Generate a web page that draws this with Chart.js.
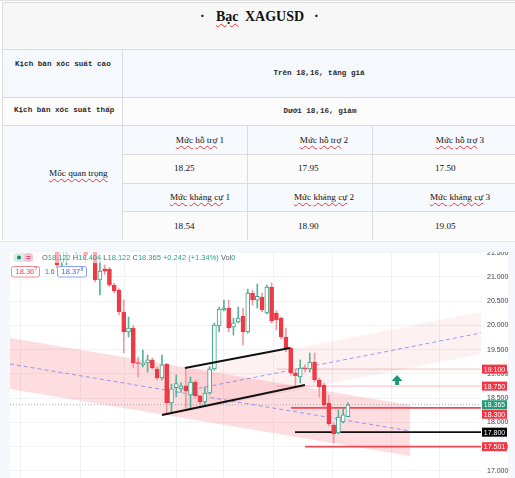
<!DOCTYPE html>
<html lang="vi"><head><meta charset="utf-8">
<script src="https://cdn.jsdelivr.net/npm/chart.js@4.4.1/dist/chart.umd.min.js"></script>
<style>
*{box-sizing:border-box}
html,body{margin:0;padding:0;background:#fff;width:515px;height:478px;overflow:hidden;position:relative}
.bg,.ln,.tx{position:absolute}
.ln{background:#dcdcdc}
.tx{white-space:nowrap;color:#111}
.mono{font-family:"Liberation Mono",monospace;font-size:7.6px;font-weight:bold;line-height:10px;height:10px;color:#2a2a2a}
.serif{font-family:"Liberation Serif",serif;font-size:9.2px;line-height:12px;height:12px;color:#111}
.ctr{width:200px;text-align:center}
.wv{text-decoration:underline wavy #e53935;text-decoration-thickness:1px;text-underline-offset:1.5px}
#frame{position:absolute;left:0;top:241px;width:515px;height:237px;background:#f4f7fc;border-top:1px solid #e3e6ee}
#panel{position:absolute;left:10px;top:252px;width:498px;height:226px;background:#fff}
#cv{position:absolute;left:0;top:252px}
</style></head>
<body>
<!-- table backgrounds -->
<div class="bg" style="left:2px;top:2px;width:513px;height:47px;background:#f7f7f7"></div>
<div class="bg" style="left:2px;top:49px;width:513px;height:48px;background:#f5f9fd"></div>
<div class="bg" style="left:2px;top:97px;width:513px;height:28px;background:#fcfcfc"></div>
<div class="bg" style="left:2px;top:125px;width:120px;height:115px;background:#f6f9fd"></div>
<div class="bg" style="left:122px;top:125px;width:393px;height:29px;background:#f6f9fd"></div>
<div class="bg" style="left:122px;top:154px;width:393px;height:29px;background:#fbfbfb"></div>
<div class="bg" style="left:122px;top:183px;width:393px;height:28px;background:#f6f9fd"></div>
<div class="bg" style="left:122px;top:211px;width:393px;height:29px;background:#fbfbfb"></div>
<!-- table lines -->
<div class="ln" style="left:0;top:0;width:515px;height:1px;background:#e2e2e2"></div>
<div class="ln" style="left:2px;top:2px;width:513px;height:1px"></div>
<div class="ln" style="left:2px;top:49px;width:513px;height:1px"></div>
<div class="ln" style="left:2px;top:97px;width:513px;height:1px"></div>
<div class="ln" style="left:2px;top:125px;width:513px;height:1px"></div>
<div class="ln" style="left:122px;top:154px;width:393px;height:1px"></div>
<div class="ln" style="left:122px;top:183px;width:393px;height:1px"></div>
<div class="ln" style="left:122px;top:211px;width:393px;height:1px"></div>
<div class="ln" style="left:2px;top:2px;width:1px;height:238px"></div>
<div class="ln" style="left:122px;top:49px;width:1px;height:191px"></div>
<div class="ln" style="left:247px;top:125px;width:1px;height:115px"></div>
<div class="ln" style="left:372px;top:125px;width:1px;height:115px"></div>
<!-- title -->
<div class="tx" style="left:200px;top:8px;font:bold 14px 'Liberation Serif',serif;line-height:18px">·</div>
<div class="tx" style="left:216px;top:8px;font:bold 14px 'Liberation Serif',serif;line-height:18px"><span class="wv">Bạc</span></div>
<div class="tx" style="left:245px;top:8px;font:bold 14px 'Liberation Serif',serif;line-height:18px">XAGUSD</div>
<div class="tx" style="left:314px;top:8px;font:bold 14px 'Liberation Serif',serif;line-height:18px">·</div>
<!-- scenario rows -->
<div class="tx mono" style="left:15px;top:59px">Kịch bản xóc suất cao</div>
<div class="tx mono ctr" style="left:219px;top:68px">Trên 18,16, tăng giá</div>
<div class="tx mono" style="left:14px;top:105px">Kịch bản xóc suất thấp</div>
<div class="tx mono ctr" style="left:220px;top:106px">Dưới 18,16, giảm</div>
<!-- key levels -->
<div class="tx serif" style="left:49px;top:167px"><span class="wv">Mốc quan trọng</span></div>
<div class="tx serif ctr" style="left:100px;top:134px"><span class="wv">Mức</span> <span class="wv">hỗ trợ</span> 1</div>
<div class="tx serif ctr" style="left:224px;top:134px"><span class="wv">Mức</span> <span class="wv">hỗ trợ</span> 2</div>
<div class="tx serif ctr" style="left:360px;top:134px"><span class="wv">Mức</span> <span class="wv">hỗ trợ</span> 3</div>
<div class="tx serif" style="left:174px;top:162px">18.25</div>
<div class="tx serif" style="left:298px;top:162px">17.95</div>
<div class="tx serif" style="left:435px;top:162px">17.50</div>
<div class="tx serif ctr" style="left:100px;top:191px"><span class="wv">Mức</span> <span class="wv">kháng cự</span> 1</div>
<div class="tx serif ctr" style="left:224px;top:191px"><span class="wv">Mức</span> <span class="wv">kháng cự</span> 2</div>
<div class="tx serif ctr" style="left:360px;top:191px"><span class="wv">Mức</span> <span class="wv">kháng cự</span> 3</div>
<div class="tx serif" style="left:174px;top:220px">18.54</div>
<div class="tx serif" style="left:298px;top:220px">18.90</div>
<div class="tx serif" style="left:435px;top:220px">19.05</div>

<div id="frame"></div>
<div id="panel"></div>
<canvas id="cv" width="510" height="250"></canvas>

<script>
// ---------- data ----------
const opens  = [21.85,21.30,21.60,22.00,21.60,21.90,21.95,21.60,21.55,20.94,21.17,21.165,20.835,20.73,20.278,19.866,19.948,19.227,19.186,19.227,19.289,19.103,18.918,19.206,18.402,18.72,18.69,18.753,18.567,18.835,18.546,18.423,18.608,19.103,19.99,20.32,20.361,19.969,20.072,20.196,19.866,20.670,20.52,20.588,20.258,20.794,20.258,20.155,19.763,19.536,19.021,18.938,19.124,19.103,19.247,18.876,18.773,18.402,17.948,17.784,18.01,18.122];
const highs  = [22.00,21.90,21.95,22.10,21.90,22.00,22.05,21.80,21.60,21.35,21.25,21.20,20.87,20.76,20.526,20.175,20.00,19.35,19.495,19.39,19.33,19.14,19.39,19.22,18.79,18.98,18.82,19.124,18.938,18.87,18.56,18.732,19.15,20.05,20.38,20.526,20.526,20.155,20.38,20.361,20.75,20.73,20.855,20.67,20.835,20.876,20.30,20.18,19.948,19.56,19.082,19.289,19.186,19.433,19.433,18.918,18.814,18.567,17.99,18.258,18.299,18.404];
const lows   = [21.19,21.20,21.25,21.55,21.45,21.50,21.30,21.52,20.90,20.63,21.05,20.80,20.68,20.216,19.433,19.763,19.124,18.94,19.144,19.04,19.10,18.876,18.876,18.196,18.196,18.53,18.62,18.299,18.299,18.50,18.32,18.361,18.58,19.08,19.866,20.30,19.866,19.80,20.05,19.598,19.845,20.42,20.36,20.28,20.237,20.052,19.907,19.72,19.454,18.979,18.732,18.814,19.041,19.041,18.835,18.526,18.32,17.928,17.577,17.763,17.99,18.122];
const closes = [21.25,21.70,21.80,21.65,21.80,21.60,21.45,21.70,20.94,21.124,21.12,20.835,20.711,20.278,19.866,19.948,19.227,19.215,19.227,19.289,19.124,18.918,19.186,18.402,18.691,18.80,18.753,18.649,18.835,18.546,18.423,18.608,19.103,20.010,20.34,20.36,19.948,20.052,20.155,19.866,20.670,20.526,20.60,20.32,20.794,20.093,20.113,19.763,19.536,19.021,18.959,19.124,19.103,19.247,18.876,18.732,18.361,17.969,17.763,18.113,18.155,18.365];

const yTicks   = [17, 17.5, 18, 18.5, 19, 19.5, 20, 20.5, 21, 21.5];
const vGridIdx = [-7.75, 5, 14.25, 25.15, 35, 45.3, 57.85, 70.2, 80.3];

const lastPrice = 18.365;
const levelPrices   = [19.100, 18.750, 18.300, 17.800, 17.501];
const levelStartIdx = [46, 46, 49.05, 49.9, 52];

// regression channels (bar index, price)
const descX = [-9.85, 74];
const descUpper = [19.742, 18.361];
const descMid   = [19.206, 17.825];
const descLower = [18.691, 17.309];
const ascX = [26.83, 88.9];
const ascUpper = [19.082, 20.278];
const ascMid   = [18.649, 19.845];
const ascLower = [18.216, 19.412];
// drawn trend lines
const trendHiX = [26.83, 48.85], trendHiY = [19.124, 19.536];
const trendLoX = [22.01, 51.99], trendLoY = [18.155, 18.773];
// arrow marker
const arrowIdx = 71.3, arrowPrice = 18.98;
// price tags on the axis
const tagPrices = [19.100, 18.750, 18.365, 18.300, 17.800, 17.501];
// header values
const hdrO = '18.122', hdrH = '18.404', hdrL = '18.122', hdrC = '18.365', hdrChg = '+0.242 (+1.34%)', hdrVol = '0';
const bidTxt = '18.36', bidLast = '7', spreadTxt = '1.6', askTxt = '18.37', askLast = '8';

// ---------- styles ----------
const UP = '#3ba287', DOWN = '#ee3a46', UPW = '#54b597', DOWNW = '#f39aa0';
const tagColors = ['#f23645', '#f23645', '#1e9a78', '#f23645', '#000000', '#f23645'];
const levelColors = ['rgba(242,54,69,0.32)', 'rgba(242,54,69,0.32)', '#f04a55', '#111111', '#f04a55'];
const levelWidths = [1, 1, 1.6, 1.6, 1.6];

const idx = opens.map((_, i) => i);
const up = idx.map(i => closes[i] >= opens[i]);
const seg = (xs, ys) => xs.map((x, k) => ({x, y: ys[k]}));
const XMIN = -9.85, XMAX = 88.9;

const ds = [];
ds.push({type:'line', data: seg(descX, descUpper), borderWidth:0, borderColor:'rgba(0,0,0,0)', pointRadius:0, fill:1, backgroundColor:'rgba(242,54,69,0.17)', order:30});
ds.push({type:'line', data: seg(descX, descLower), borderWidth:0, borderColor:'rgba(0,0,0,0)', pointRadius:0, fill:false, order:30});
ds.push({type:'line', data: seg(ascX, ascUpper), borderWidth:0, borderColor:'rgba(0,0,0,0)', pointRadius:0, fill:3, backgroundColor:'rgba(242,54,69,0.07)', order:29});
ds.push({type:'line', data: seg(ascX, ascLower), borderWidth:0, borderColor:'rgba(0,0,0,0)', pointRadius:0, fill:false, order:29});
ds.push({type:'line', data: seg(descX, descMid), borderWidth:1, borderColor:'rgba(90,110,240,0.65)', borderDash:[4,3], pointRadius:0, fill:false, order:25});
ds.push({type:'line', data: seg(ascX, ascMid), borderWidth:1, borderColor:'rgba(90,110,240,0.65)', borderDash:[4,3], pointRadius:0, fill:false, order:25});
levelPrices.forEach((p, k) => {
  ds.push({type:'line', data: seg([levelStartIdx[k], XMAX], [p, p]), borderWidth: levelWidths[k], borderColor: levelColors[k], pointRadius:0, fill:false, order:20});
});
ds.push({type:'line', data: seg([XMIN, XMAX], [lastPrice, lastPrice]), borderWidth:1, borderColor:'#a3a7b0', borderDash:[1,2], pointRadius:0, fill:false, order:21});
ds.push({type:'bar', data: idx.map(i => ({x:i, y:[lows[i], highs[i]]})), barThickness:1, grouped:false,
  backgroundColor: idx.map(i => up[i] ? UPW : DOWNW), borderWidth:0, order:10});
ds.push({type:'bar', data: idx.map(i => ({x:i, y:[opens[i], closes[i]]})), barThickness:4, grouped:false, minBarLength:1,
  backgroundColor: idx.map(i => up[i] ? '#ffffff' : DOWN), borderColor: idx.map(i => up[i] ? UP : DOWN),
  borderWidth:1, borderSkipped:false, order:9});
ds.push({type:'line', data: seg(trendHiX, trendHiY), borderWidth:2, borderColor:'#111', pointRadius:0, fill:false, order:5});
ds.push({type:'line', data: seg(trendLoX, trendLoY), borderWidth:2, borderColor:'#111', pointRadius:0, fill:false, order:5});

const overlay = {
  id:'overlay',
  afterDraw(chart){
    const ctx = chart.ctx, xs = chart.scales.x, ys = chart.scales.y, ca = chart.chartArea;
    ctx.save();
    // arrow
    const ax = xs.getPixelForValue(arrowIdx), ay = ys.getPixelForValue(arrowPrice);
    ctx.fillStyle = '#1e9a78';
    ctx.beginPath();
    ctx.moveTo(ax, ay); ctx.lineTo(ax + 5.5, ay + 6); ctx.lineTo(ax + 2, ay + 6); ctx.lineTo(ax + 2, ay + 10);
    ctx.lineTo(ax - 2, ay + 10); ctx.lineTo(ax - 2, ay + 6); ctx.lineTo(ax - 5.5, ay + 6); ctx.closePath(); ctx.fill();

    // price tags
    const H = 9;
    const tags = tagPrices.map((p, k) => ({p, c: tagColors[k], y: ys.getPixelForValue(p)})).sort((a, b) => a.y - b.y);
    let prevBottom = -1e9;
    tags.forEach(t => {
      let top = t.y - H / 2;
      if (top < prevBottom + 0.5) top = prevBottom + 0.5;
      prevBottom = top + H;
      ctx.fillStyle = t.c;
      ctx.fillRect(ca.right + 1, top, 25, H);
      ctx.fillStyle = '#fff';
      ctx.font = '7px "Liberation Sans", sans-serif';
      ctx.textAlign = 'center'; ctx.textBaseline = 'middle';
      ctx.fillText(t.p.toFixed(3), ca.right + 13.5, top + H / 2 + 0.5);
    });

    // header legend
    ctx.fillStyle = 'rgba(255,255,255,0.6)';
    ctx.fillRect(ca.left, 0, 230, 11);
    // toggle pill
    ctx.fillStyle = '#d7eee7';
    ctx.beginPath(); ctx.roundRect(13, 1, 14, 9, 4.5); ctx.fill();
    ctx.fillStyle = '#f7c6d4';
    ctx.beginPath(); ctx.roundRect(24, 1, 9, 9, 3); ctx.fill();
    ctx.fillStyle = '#178a6c';
    ctx.beginPath(); ctx.arc(19, 5.5, 2, 0, Math.PI * 2); ctx.fill();
    ctx.fillStyle = '#d63a6e';
    ctx.fillRect(26.5, 4, 4, 0.9); ctx.fillRect(26.5, 6.2, 4, 0.9);

    ctx.font = '7.5px "Liberation Sans", sans-serif';
    ctx.textAlign = 'left'; ctx.textBaseline = 'middle';
    const parts = [['O','#555b66'],[hdrO,'#2c9f86'],[' H','#555b66'],[hdrH,'#2c9f86'],[' L','#555b66'],[hdrL,'#2c9f86'],
      [' C','#555b66'],[hdrC,'#2c9f86'],[' '+hdrChg,'#2c9f86'],[' Vol','#555b66'],[hdrVol,'#2c9f86']];
    let tx = 42;
    parts.forEach(([s, c]) => { ctx.fillStyle = c; ctx.fillText(s, tx, 6); tx += ctx.measureText(s).width; });

    // bid / spread / ask
    const box = (x, w, border, color, main, last) => {
      ctx.fillStyle = '#fff';
      ctx.beginPath(); ctx.roundRect(x, 14.5, w, 10.5, 2); ctx.fill();
      ctx.strokeStyle = border; ctx.lineWidth = 1; ctx.stroke();
      ctx.fillStyle = color; ctx.font = '7.5px "Liberation Sans", sans-serif';
      ctx.fillText(main, x + 4, 20);
      const mw = ctx.measureText(main).width;
      ctx.font = '5px "Liberation Sans", sans-serif';
      ctx.fillText(last, x + 4 + mw + 0.3, 18);
    };
    box(11.5, 28, '#f08a92', '#e84b55', bidTxt, bidLast);
    ctx.fillStyle = '#666'; ctx.font = '7px "Liberation Sans", sans-serif';
    ctx.fillText(spreadTxt, 45, 20);
    box(57.5, 29, '#8aa0f5', '#4a63e6', askTxt, askLast);
    ctx.restore();
  }
};

Chart.defaults.font.family = '"Liberation Sans", sans-serif';
new Chart(document.getElementById('cv'), {
  type:'line',
  data:{datasets: ds},
  options:{
    responsive:false, animation:false, devicePixelRatio:1, events:[],
    layout:{padding:{left:10, right:0, top:0, bottom:0}},
    plugins:{legend:{display:false}, tooltip:{enabled:false}},
    scales:{
      x:{type:'linear', min:XMIN, max:XMAX, offset:false,
         grid:{color:'#f0f2f6', drawTicks:false, offset:false}, border:{display:false},
         ticks:{display:false},
         afterBuildTicks: s => { s.ticks = vGridIdx.map(v => ({value:v})); },
         afterFit: s => { s.height = 0; s.paddingLeft = 0; s.paddingRight = 0; }},
      y:{type:'linear', position:'right', min:16.36, max:21.515,
         grid:{color:'#f0f2f6', drawTicks:false}, border:{display:false},
         ticks:{padding:6, color:'#3a3e48', font:{size:7}, callback: v => Number(v).toFixed(3)},
         afterBuildTicks: s => { s.ticks = yTicks.map(v => ({value:v})); },
         afterFit: s => { s.width = 29; s.paddingTop = 0; s.paddingBottom = 0; }}
    }
  },
  plugins:[overlay]
});
</script>
</body></html>
